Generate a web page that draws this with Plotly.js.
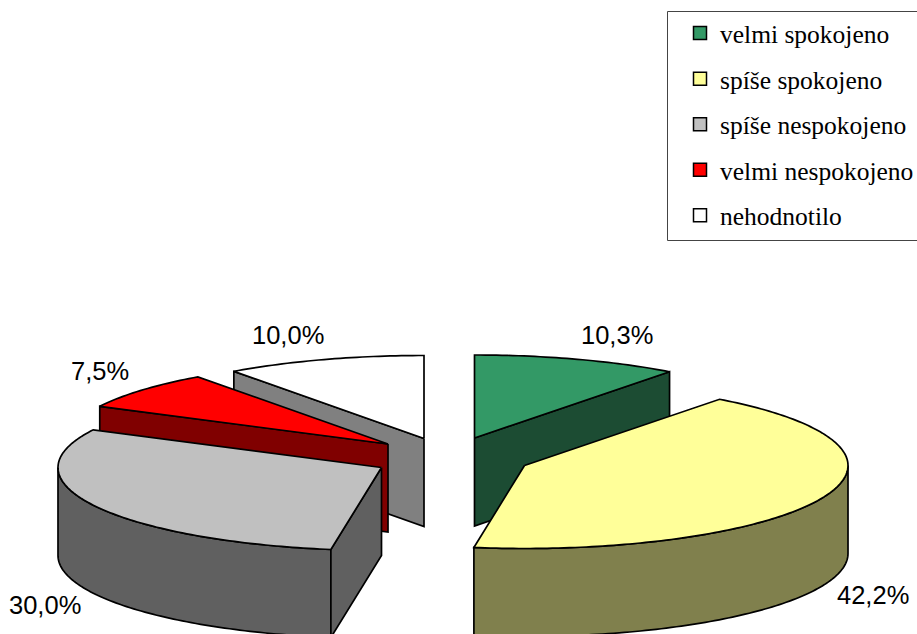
<!DOCTYPE html>
<html><head><meta charset="utf-8">
<script src="https://cdn.plot.ly/plotly-3.0.1.min.js"></script>
<style>html,body{margin:0;padding:0;background:#fff}#c{width:917px;height:634px}</style>
</head><body><div id="c"></div>
<script>
const categories = ['velmi spokojeno','spíše spokojeno','spíše nespokojeno','velmi nespokojeno','nehodnotilo'];
const values = [10.3, 42.2, 30.0, 7.5, 10.0];
const labels = ['10,3%','42,2%','30,0%','7,5%','10,0%'];
const topColors = ['#339966','#FFFF99','#C0C0C0','#FF0000','#FFFFFF'];
const sideColors = ['#1C4C33','#80804D','#606060','#800000','#808080'];

// Pie geometry (pixel-like axis units)
const apexX = [474.5, 524.5, 381.5, 388, 424];
const apexY = [438, 465.5, 467.5, 444, 438.5];
const labelX = [617, 873, 45, 100, 288];
const labelY = [335, 595, 605, 371, 335];
const A = 323.5, B = 83, DEPTH = 88;
const drawOrder = [4, 3, 2, 0, 1];

const total = values.reduce((a, b) => a + b, 0);
let acc = 0;
const spans = values.map(v => { const s = acc; acc += v; return [s / total * 360, acc / total * 360]; });
const rad = d => d * Math.PI / 180;
const rimPt = (i, t) => [apexX[i] + A * Math.sin(rad(t)), apexY[i] - B * Math.cos(rad(t))];
function arc(i, t0, t1) {
  const n = Math.max(2, Math.ceil(Math.abs(t1 - t0)));
  const out = [];
  for (let k = 0; k <= n; k++) out.push(rimPt(i, t0 + (t1 - t0) * k / n));
  return out;
}
function poly(pts, fill, w) {
  const p = pts.concat([pts[0]]);
  return {type:'scatter', mode:'lines', x:p.map(q => q[0]), y:p.map(q => q[1]),
    fill:'toself', fillcolor:fill, line:{color:'#000', width:w || 1.7, simplify:false},
    showlegend:false, hoverinfo:'skip'};
}
const drop = pts => pts.map(q => [q[0], q[1] + DEPTH]);
const traces = [];
drawOrder.forEach(i => {
  const [s, e] = spans[i];
  const lo = Math.max(s, 90), hi = Math.min(e, 270);
  if (hi > lo) { const r = arc(i, lo, hi); traces.push(poly(r.concat(drop(r).reverse()), sideColors[i])); }
  const apex = [apexX[i], apexY[i]];
  if (Math.sin(rad(s)) < -1e-6) { const q = [apex, rimPt(i, s)]; traces.push(poly(q.concat(drop(q).reverse()), sideColors[i])); }
  if (Math.sin(rad(e)) > 1e-6) { const q = [apex, rimPt(i, e)]; traces.push(poly(q.concat(drop(q).reverse()), sideColors[i])); }
  traces.push(poly([apex].concat(arc(i, s, e)), topColors[i]));
});
categories.forEach((c, i) => traces.push({
  type:'scatter', mode:'markers', x:[null], y:[null], name:c, legendgroup:c,
  marker:{symbol:'square', size:13, color:topColors[i], line:{color:'#000', width:1.5}}, hoverinfo:'skip'
}));

const layout = {
  width:917, height:634, margin:{l:0, r:0, t:0, b:0, pad:0, autoexpand:false},
  paper_bgcolor:'#fff', plot_bgcolor:'#fff', hovermode:false,
  xaxis:{range:[0, 917], visible:false, fixedrange:true},
  yaxis:{range:[634, 0], visible:false, fixedrange:true},
  legend:{x:680/917, xanchor:'left', y:1 - 10/634, yanchor:'top', traceorder:'grouped', tracegroupgap:9.4,
    bgcolor:'rgba(0,0,0,0)', borderwidth:0,
    font:{family:'Liberation Serif', size:25.5, color:'#000'}},
  shapes:[{type:'rect', xref:'x', yref:'y', x0:667.5, x1:925, y0:11.5, y1:240.5,
    line:{color:'#444', width:1}, layer:'below'}],
  annotations: labels.map((t, i) => ({xref:'x', yref:'y', x:labelX[i], y:labelY[i], text:t, showarrow:false,
    xanchor:'center', yanchor:'middle', font:{family:'Liberation Sans', size:25.5, color:'#000'}}))
};
Plotly.newPlot('c', traces, layout, {displayModeBar:false, staticPlot:true});
</script>
</body></html>
